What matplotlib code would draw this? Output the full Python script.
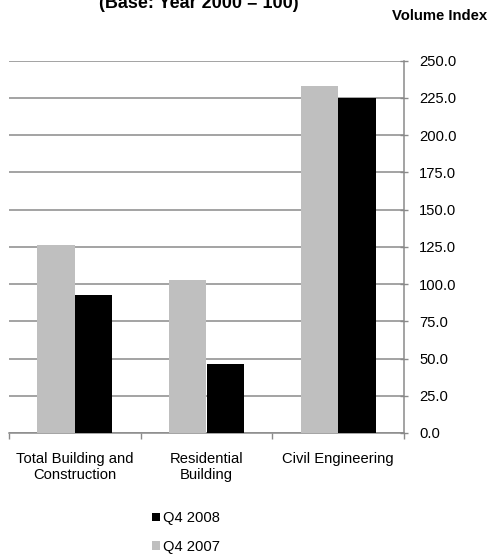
import matplotlib
matplotlib.use('Agg')
import matplotlib.pyplot as plt
import numpy as np

plt.rcParams['font.family'] = ['Liberation Sans', 'DejaVu Sans']

# данные
categories = ['Total Building and\nConstruction', 'Residential\nBuilding', 'Civil Engineering']
q4_2007 = [126.0, 102.7, 232.7]
q4_2008 = [92.6, 46.4, 224.8]
yticks = [0, 25, 50, 75, 100, 125, 150, 175, 200, 225, 250]

W, H = 489, 556
fig = plt.figure(figsize=(W / 100, H / 100), dpi=100)
ax = fig.add_axes([9 / W, (H - 433) / H, (404 - 9) / W, (433 - 60.7) / H])

x = np.arange(len(categories))
bw = 0.286
b07 = ax.bar(x - bw / 2, q4_2007, bw, color='#bfbfbf', zorder=3, label='Q4 2007')
b08 = ax.bar(x + bw / 2, q4_2008, bw, color='black', zorder=3, label='Q4 2008')

ax.set_xlim(-0.5, 2.5)
ax.set_ylim(0, 250)

grid_c = '#8a8a8a'
ax.yaxis.tick_right()
ax.set_yticks(yticks)
ax.set_yticklabels([f'{v:.1f}' for v in yticks], fontsize=10.6)
ax.tick_params(axis='y', direction='inout', length=6, width=1, color=grid_c, pad=8)
ax.grid(axis='y', color=grid_c, lw=1.1, zorder=0)

ax.set_xticks(x)
ax.set_xticklabels(categories, fontsize=10.6, linespacing=1.15)
ax.tick_params(axis='x', which='major', length=0, pad=14)
ax.set_xticks([-0.5, 0.5, 1.5, 2.5], minor=True)
ax.tick_params(axis='x', which='minor', direction='out', length=4, width=1, color=grid_c)

for s in ['top', 'left']:
    ax.spines[s].set_visible(False)
for s in ['bottom', 'right']:
    ax.spines[s].set_color(grid_c)
    ax.spines[s].set_linewidth(1.1)

fig.text(199 / W, 1 - 3 / H, '(Base: Year 2000 = 100)', fontsize=13, fontweight='bold',
         ha='center', va='center')
fig.text(487 / W, 1 - 16 / H, 'Volume Index', fontsize=10.7, fontweight='bold',
         ha='right', va='center')

leg = fig.legend([b08, b07], ['Q4 2008', 'Q4 2007'], loc='upper left',
                 bbox_to_anchor=(139 / W, 1 - 498 / H), frameon=False, fontsize=10.6,
                 handlelength=0.55, handleheight=0.55, handletextpad=0.2, labelspacing=1.0)

fig.savefig('out.png', dpi=100)
